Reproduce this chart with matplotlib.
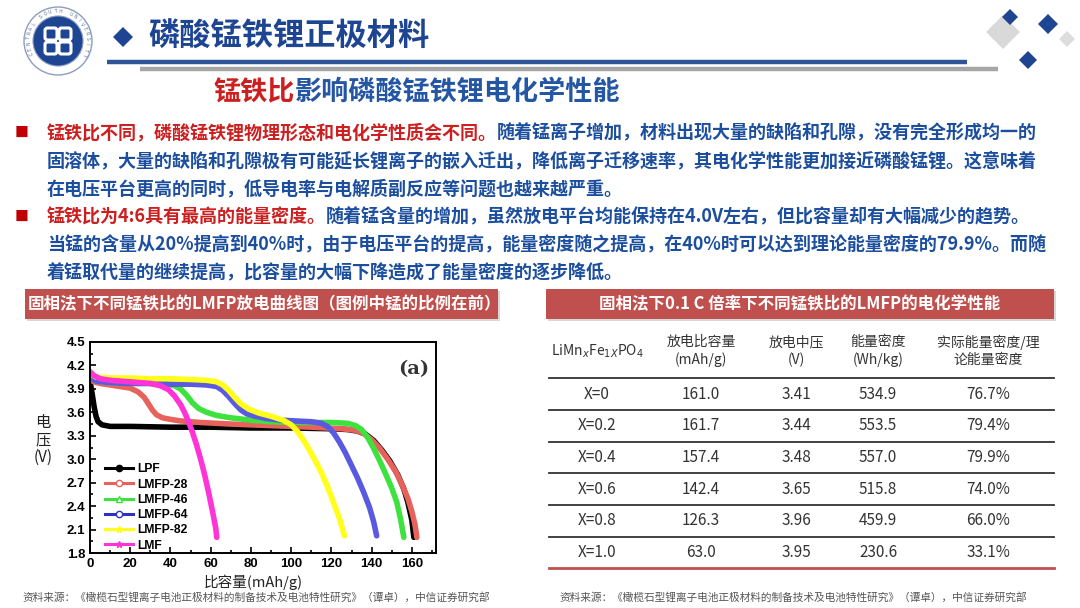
import numpy as np
import matplotlib.pyplot as plt
from matplotlib import patches
from matplotlib.lines import Line2D

plt.rcParams['font.family'] = ['Noto Sans CJK SC', 'DejaVu Sans']

# ---- discharge curves: capacity mAh/g, voltage V ----
lpf_cap = [0, 1, 2, 3, 4, 6, 10, 20, 40, 60, 80, 100, 120, 128, 133, 137, 141, 145, 149, 153, 156, 158, 160, 161]
lpf_v = [4.00, 3.85, 3.68, 3.55, 3.48, 3.44, 3.42, 3.42, 3.41, 3.41, 3.40, 3.40, 3.39, 3.38, 3.36, 3.32, 3.24,
         3.12, 2.98, 2.80, 2.62, 2.45, 2.22, 2.00]

lmfp28_cap = [0, 2, 5, 10, 15, 20, 24, 27, 29, 31, 33, 36, 40, 45, 55, 70, 90, 110, 125, 132, 136, 140, 144,
              148, 152, 155, 158, 160, 161.5, 162.5]
lmfp28_v = [4.02, 3.99, 3.97, 3.95, 3.93, 3.91, 3.86, 3.79, 3.71, 3.63, 3.57, 3.53, 3.51, 3.49, 3.47, 3.45,
            3.43, 3.41, 3.39, 3.37, 3.33, 3.25, 3.14, 3.00, 2.84, 2.68, 2.50, 2.33, 2.17, 2.00]

lmfp46_cap = [0, 3, 10, 20, 30, 38, 42, 45, 48, 51, 54, 58, 63, 70, 80, 90, 100, 110, 120, 128, 132, 135,
              138, 141, 144, 147, 150, 152.5, 154.5, 156]
lmfp46_v = [4.06, 4.00, 3.98, 3.97, 3.97, 3.96, 3.94, 3.90, 3.82, 3.72, 3.65, 3.60, 3.56, 3.53, 3.50, 3.48,
            3.47, 3.47, 3.47, 3.46, 3.43, 3.38, 3.28, 3.14, 2.98, 2.81, 2.63, 2.45, 2.22, 2.00]

lmfp64_cap = [0, 3, 10, 20, 30, 40, 50, 58, 63, 66, 69, 72, 75, 78, 82, 88, 95, 102, 110, 115, 118, 121,
              124, 127, 130, 133, 136, 139, 141, 142.5]
lmfp64_v = [4.05, 4.00, 3.98, 3.97, 3.97, 3.96, 3.96, 3.95, 3.93, 3.88, 3.80, 3.71, 3.63, 3.58, 3.55, 3.52,
            3.50, 3.49, 3.48, 3.46, 3.42, 3.34, 3.22, 3.08, 2.92, 2.76, 2.58, 2.38, 2.20, 2.02]

lmfp82_cap = [0, 3, 10, 20, 30, 40, 50, 58, 63, 66, 69, 72, 75, 79, 84, 90, 96, 100, 103, 106, 109, 112,
              115, 118, 121, 124, 126.5]
lmfp82_v = [4.10, 4.05, 4.04, 4.04, 4.03, 4.03, 4.02, 4.01, 3.99, 3.95, 3.88, 3.79, 3.71, 3.64, 3.59, 3.55,
            3.50, 3.44, 3.36, 3.25, 3.12, 2.98, 2.83, 2.65, 2.45, 2.24, 2.02]

lmf_cap = [0, 2, 5, 10, 20, 30, 35, 39, 42, 45, 47, 49, 51, 53, 55, 57, 59, 61, 62.5, 63]
lmf_v = [4.12, 4.07, 4.03, 4.01, 3.99, 3.97, 3.94, 3.89, 3.81, 3.70, 3.60, 3.48, 3.34, 3.18, 3.00, 2.80,
         2.57, 2.32, 2.12, 2.00]

curve_labels = ['LPF', 'LMFP-28', 'LMFP-46', 'LMFP-64', 'LMFP-82', 'LMF']
x_ticks = [0, 20, 40, 60, 80, 100, 120, 140, 160]
y_ticks = [1.8, 2.1, 2.4, 2.7, 3.0, 3.3, 3.6, 3.9, 4.2, 4.5]

# ---- table ----
tbl_head = ['LiMn$_x$Fe$_{1X}$PO$_4$', '放电比容量\n(mAh/g)', '放电中压\n(V)', '能量密度\n(Wh/kg)',
            '实际能量密度/理\n论能量密度']
tbl_x = ['X=0', 'X=0.2', 'X=0.4', 'X=0.6', 'X=0.8', 'X=1.0']
tbl_cap = ['161.0', '161.7', '157.4', '142.4', '126.3', '63.0']
tbl_volt = ['3.41', '3.44', '3.48', '3.65', '3.96', '3.95']
tbl_energy = ['534.9', '553.5', '557.0', '515.8', '459.9', '230.6']
tbl_ratio = ['76.7%', '79.4%', '79.9%', '74.0%', '66.0%', '33.1%']

BLUE = '#1C4E9E'
RED = '#CC1F1F'
BAR = '#C0504D'
NAVY = '#1E4592'

fig = plt.figure(figsize=(10.8, 6.08), dpi=100)
bg = fig.add_axes([0, 0, 1, 1])
bg.set_xlim(0, 1080)
bg.set_ylim(608, 0)
bg.axis('off')


def diamond(cx, cy, r, color):
    bg.add_patch(patches.Polygon([(cx, cy - r), (cx + r, cy), (cx, cy + r), (cx - r, cy)],
                                 closed=True, fc=color, ec='none'))


# logo
cx, cy = 58, 41
bg.add_patch(patches.Circle((cx, cy), 34, fc='white', ec='#8c9cc0', lw=1.0))
bg.add_patch(patches.Circle((cx, cy), 25, fc=NAVY, ec='#8c9cc0', lw=0.8))
for dx, dy in [(-7, -7), (7, 7), (-7, 7), (7, -7)]:
    sq = patches.FancyBboxPatch((cx + dx - 6, cy + dy - 6), 12, 12,
                                boxstyle='round,pad=0,rounding_size=2.5', fc='none', ec='white', lw=2.2)
    bg.add_patch(sq)
ring = 'CENTRAL SOUTH UNIVERSITY'
for i, ch in enumerate(ring):
    th = np.deg2rad(205 - i * 230 / (len(ring) - 1))
    bg.text(cx + 29.5 * np.cos(th), cy - 29.5 * np.sin(th), ch, fontsize=3.3, color='#5a6f9c',
            rotation=np.rad2deg(th) - 90, ha='center', va='center', family='DejaVu Sans')

# title
diamond(123, 37, 10, NAVY)
bg.text(148, 37, '磷酸锰铁锂正极材料', fontsize=22.5, fontweight='bold', color=NAVY, va='center')
bg.plot([107, 967], [62, 62], color='#2F5597', lw=3.2, solid_capstyle='butt')
bg.plot([140, 998], [69, 69], color='#A6A6A6', lw=3.2, solid_capstyle='butt')

# corner decoration
diamond(1003, 32, 17, '#D9D9D9')
diamond(1067, 39, 8, '#DDDDDD')
diamond(1010, 17, 8, NAVY)
diamond(1048, 24, 10, NAVY)
diamond(1028, 60, 9, NAVY)

# subtitle
t = bg.text(213, 92, '锰铁比', fontsize=19.5, fontweight='bold', color=RED, va='center')
bg.annotate('影响磷酸锰铁锂电化学性能', xy=(1, 0), xycoords=t, va='bottom', ha='left',
            fontsize=19.5, fontweight='bold', color='#2456A4')

# bullet text
fs = 13
rows_y = [133, 161, 189, 217, 245, 273]
body = [
    ('锰铁比不同，磷酸锰铁锂物理形态和电化学性质会不同。', '随着锰离子增加，材料出现大量的缺陷和孔隙，没有完全形成均一的'),
    ('', '固溶体，大量的缺陷和孔隙极有可能延长锂离子的嵌入迁出，降低离子迁移速率，其电化学性能更加接近磷酸锰锂。这意味着'),
    ('', '在电压平台更高的同时，低导电率与电解质副反应等问题也越来越严重。'),
    ('锰铁比为4:6具有最高的能量密度。', '随着锰含量的增加，虽然放电平台均能保持在4.0V左右，但比容量却有大幅减少的趋势。'),
    ('', '当锰的含量从20%提高到40%时，由于电压平台的提高，能量密度随之提高，在40%时可以达到理论能量密度的79.9%。而随'),
    ('', '着锰取代量的继续提高，比容量的大幅下降造成了能量密度的逐步降低。'),
]
for y, (red_part, blue_part) in zip(rows_y, body):
    if red_part:
        bg.text(22, y, '■', fontsize=10, color='#C00000', va='center', ha='center')
        t = bg.text(47, y, red_part, fontsize=fs, fontweight='bold', color=RED, va='center')
        bg.annotate(blue_part, xy=(1, 0), xycoords=t, va='bottom', ha='left',
                    fontsize=fs, fontweight='bold', color=BLUE)
    else:
        bg.text(47, y, blue_part, fontsize=fs, fontweight='bold', color=BLUE, va='center')

# section bars
for x0, x1 in [(25, 498), (546, 1054)]:
    bg.add_patch(patches.Rectangle((x0 + 2, 291), x1 - x0, 30, fc='#D8D8D8', ec='none'))
    bg.add_patch(patches.Rectangle((x0, 289), x1 - x0, 30, fc=BAR, ec='none'))
bg.text(28, 304, '固相法下不同锰铁比的LMFP放电曲线图（图例中锰的比例在前）', fontsize=11.9,
        fontweight='bold', color='white', va='center')
bg.text(800, 304, '固相法下0.1 C 倍率下不同锰铁比的LMFP的电化学性能', fontsize=11.9,
        fontweight='bold', color='white', va='center', ha='center')

# ---- table ----
col_x = [597, 701, 796, 878, 988]
head_line = 378.3
pitch = 31.67
for j, h in enumerate(tbl_head):
    bg.text(col_x[j], 351, h, fontsize=10, color='#333333', ha='center', va='center', linespacing=1.3)
cols = [tbl_x, tbl_cap, tbl_volt, tbl_energy, tbl_ratio]
for i in range(len(tbl_x)):
    yc = head_line + pitch * (i + 0.5)
    for j, col in enumerate(cols):
        bg.text(col_x[j], yc, col[i], fontsize=11, color='#333333', ha='center', va='center')
    ln = head_line + pitch * i
    bg.plot([549, 1054], [ln, ln], color='#333333', lw=1.3)
bot = head_line + pitch * len(tbl_x)
bg.plot([549, 1054], [bot, bot], color='#C0504D', lw=2.0)

src = '资料来源：《橄榄石型锂离子电池正极材料的制备技术及电池特性研究》（谭卓），中信证券研究部'
bg.text(22, 597, src, fontsize=7.7, color='#555555', va='center')
bg.text(559, 597, src, fontsize=7.7, color='#555555', va='center')

# ---- discharge chart ----
ax = fig.add_axes([90 / 1080, (608 - 553) / 608, 346 / 1080, 211 / 608])
series = [
    (lpf_cap, lpf_v, '#000000'),
    (lmfp28_cap, lmfp28_v, '#E8625C'),
    (lmfp46_cap, lmfp46_v, '#3EE23E'),
    (lmfp64_cap, lmfp64_v, '#5A5AE0'),
    (lmfp82_cap, lmfp82_v, '#FFFF1A'),
    (lmf_cap, lmf_v, '#FF33D6'),
]
for cap, v, c in series:
    ax.plot(cap, v, color=c, lw=4, solid_capstyle='round', solid_joinstyle='round')

ax.set_xlim(0, 172)
ax.set_ylim(1.8, 4.5)
ax.set_xticks(x_ticks)
ax.set_xticks([10, 30, 50, 70, 90, 110, 130, 150, 170], minor=True)
ax.set_yticks(y_ticks)
ax.set_yticks([1.95, 2.25, 2.55, 2.85, 3.15, 3.45, 3.75, 4.05, 4.35], minor=True)
ax.set_yticklabels(['%.1f' % v for v in y_ticks])
ax.tick_params(which='both', direction='in', width=1.2, top=False, right=False)
ax.tick_params(which='major', length=4)
ax.tick_params(which='minor', length=2.5)
for lab in ax.get_xticklabels() + ax.get_yticklabels():
    lab.set_family('Liberation Sans')
    lab.set_fontweight('bold')
    lab.set_fontsize(9.5)
for sp in ax.spines.values():
    sp.set_linewidth(1.4)
ax.text(0.935, 0.87, '(a)', transform=ax.transAxes, fontsize=14, family='DejaVu Serif',
        fontweight='bold', color='#333333', ha='center', va='center')

markers = [('o', '#000000', '#000000'), ('o', '#E8625C', 'white'), ('^', '#3EE23E', 'white'),
           ('o', '#3030C0', 'white'), ('*', '#FFFF1A', '#FFFF1A'), ('*', '#FF33D6', '#FF33D6')]
handles = [Line2D([], [], color=ec, lw=2.2, marker=m, markersize=4.5, markerfacecolor=fc,
                  markeredgecolor=ec) for m, ec, fc in markers]
ax.legend(handles, curve_labels, loc='upper left', bbox_to_anchor=(0.043, 0.425), frameon=False,
          prop=dict(family='Liberation Sans', weight='bold', size=8.7), handlelength=2.3,
          handletextpad=0.4, labelspacing=0.27, borderpad=0, borderaxespad=0)

bg.text(43, 440, '电\n压\n(V)', fontsize=11, color='#222222', ha='center', va='center', linespacing=1.05)
bg.text(253, 582, '比容量(mAh/g)', fontsize=10.5, color='#222222', ha='center', va='center')

fig.savefig('out.png', dpi=100)
